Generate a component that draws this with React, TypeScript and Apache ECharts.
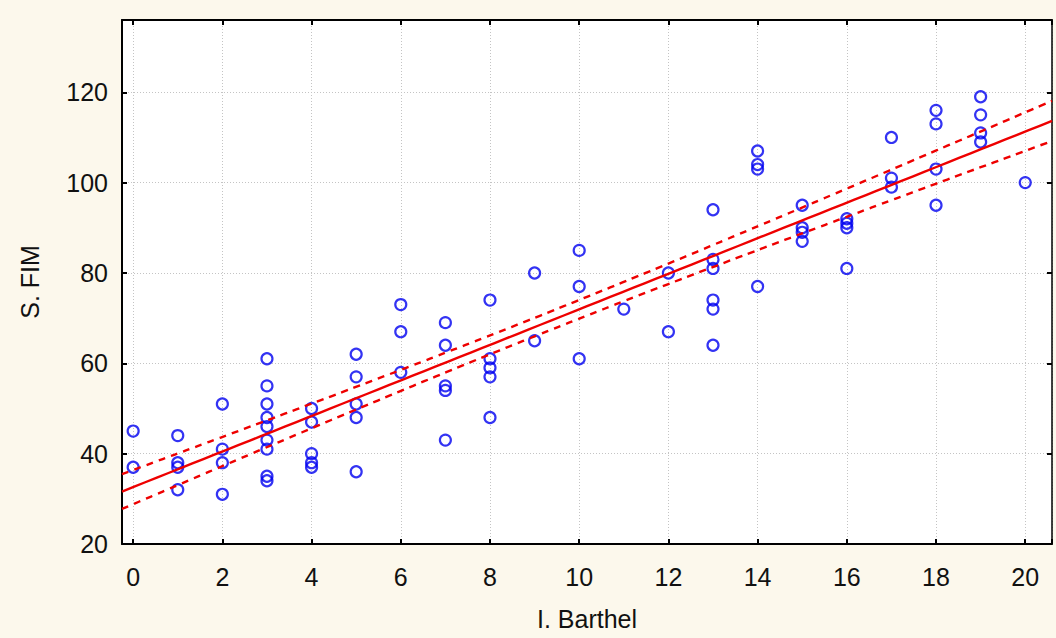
import React, { useEffect, useRef } from "react";
import * as echarts from "echarts";

// Barthel index (x) and FIM score (y) for each patient
const barthelScores = [
  0, 0,
  1, 1, 1, 1,
  2, 2, 2, 2,
  3, 3, 3, 3, 3, 3, 3, 3, 3,
  4, 4, 4, 4, 4,
  5, 5, 5, 5, 5,
  6, 6, 6,
  7, 7, 7, 7, 7,
  8, 8, 8, 8, 8,
  9, 9,
  10, 10, 10,
  11,
  12, 12,
  13, 13, 13, 13, 13, 13,
  14, 14, 14, 14,
  15, 15, 15, 15,
  16, 16, 16, 16,
  17, 17, 17,
  18, 18, 18, 18,
  19, 19, 19, 19,
  20,
];
const fimScores = [
  45, 37,
  44, 38, 37, 32,
  51, 41, 38, 31,
  61, 55, 51, 48, 46, 43, 41, 35, 34,
  50, 47, 40, 38, 37,
  62, 57, 51, 48, 36,
  73, 67, 58,
  69, 64, 55, 54, 43,
  74, 61, 59, 57, 48,
  80, 65,
  85, 77, 61,
  72,
  80, 67,
  94, 83, 81, 74, 72, 64,
  107, 104, 103, 77,
  95, 90, 89, 87,
  92, 91, 90, 81,
  110, 101, 99,
  116, 113, 103, 95,
  119, 115, 111, 109,
  100,
];

const xTicks = [0, 2, 4, 6, 8, 10, 12, 14, 16, 18, 20];
const yTicks = [20, 40, 60, 80, 100, 120];
const xRange = [-0.25, 20.6];
const yRange = [20, 136];
const tValue = 1.9908; // two-sided 95%, df = n - 2

// Least-squares fit with 95% confidence band for the mean
function fitRegression(xs: number[], ys: number[]) {
  const n = xs.length;
  const mx = xs.reduce((a, b) => a + b, 0) / n;
  const my = ys.reduce((a, b) => a + b, 0) / n;
  let sxx = 0, sxy = 0;
  for (let i = 0; i < n; i++) {
    sxx += (xs[i] - mx) ** 2;
    sxy += (xs[i] - mx) * (ys[i] - my);
  }
  const slope = sxy / sxx;
  const intercept = my - slope * mx;
  let sse = 0;
  for (let i = 0; i < n; i++) sse += (ys[i] - intercept - slope * xs[i]) ** 2;
  const s = Math.sqrt(sse / (n - 2));
  return { n, mx, sxx, slope, intercept, s };
}

const FONT = "'Liberation Sans', Arial, sans-serif";
const BLUE = "#0000f0";
const RED = "#ee0000";
const GRID_LINE = { show: true, lineStyle: { color: "#c4c4c4", type: [1, 2], width: 1 } };

export default function App() {
  const ref = useRef<HTMLDivElement>(null);

  useEffect(() => {
    if (!ref.current) return;
    const chart = echarts.init(ref.current, undefined, { renderer: "svg" });

    const fit = fitRegression(barthelScores, fimScores);
    const steps = 80;
    const fitLine: number[][] = [];
    const upper: number[][] = [];
    const lower: number[][] = [];
    for (let i = 0; i <= steps; i++) {
      const x = xRange[0] + ((xRange[1] - xRange[0]) * i) / steps;
      const y = fit.intercept + fit.slope * x;
      const h =
        tValue * fit.s * Math.sqrt(1 / fit.n + (x - fit.mx) ** 2 / fit.sxx);
      fitLine.push([x, y]);
      upper.push([x, y + h]);
      lower.push([x, y - h]);
    }

    const points = barthelScores.map((x, i) => [x, fimScores[i]]);

    const xLabelFmt = (v: number) => (xTicks.includes(v) ? String(v) : "");
    const yLabelFmt = (v: number) => (yTicks.includes(v) ? String(v) : "");

    const xBase = {
      type: "value",
      min: xRange[0],
      max: xRange[1],
      splitNumber: 10,
      axisLine: { show: true, onZero: false, lineStyle: { color: "#000", width: 2 } },
      axisTick: { show: true, inside: true, length: 5, lineStyle: { color: "#000", width: 2 } },
    };

    chart.setOption({
      animation: false,
      backgroundColor: "#fcf8ec",
      grid: {
        left: 122,
        top: 20,
        right: 4,
        bottom: 94,
        show: true,
        backgroundColor: "#ffffff",
        borderWidth: 0,
      },
      xAxis: [
        {
          ...xBase,
          name: "I. Barthel",
          nameLocation: "middle",
          nameGap: 62,
          nameTextStyle: { fontFamily: FONT, fontSize: 25, color: "#111" },
          axisLabel: {
            formatter: xLabelFmt,
            fontFamily: FONT,
            fontSize: 25,
            color: "#111",
            margin: 20,
          },
          splitLine: GRID_LINE,
        },
        {
          ...xBase,
          position: "top",
          axisLabel: { show: false },
          splitLine: { show: false },
        },
      ],
      yAxis: [
        {
          type: "value",
          min: yRange[0],
          max: yRange[1],
          interval: 20,
          name: "S. FIM",
          nameLocation: "middle",
          nameGap: 80,
          nameTextStyle: { fontFamily: FONT, fontSize: 25, color: "#111" },
          axisLine: { show: true, onZero: false, lineStyle: { color: "#000", width: 2 } },
          axisTick: { show: true, inside: true, length: 5, lineStyle: { color: "#000", width: 2 } },
          axisLabel: {
            formatter: yLabelFmt,
            fontFamily: FONT,
            fontSize: 25,
            color: "#111",
            margin: 14,
          },
          splitLine: GRID_LINE,
        },
        {
          type: "value",
          position: "right",
          min: yRange[0],
          max: yRange[1],
          interval: 20,
          axisLine: { show: true, onZero: false, lineStyle: { color: "#000", width: 1.5 } },
          axisTick: { show: true, inside: true, length: 5, lineStyle: { color: "#000", width: 2 } },
          axisLabel: { show: false },
          splitLine: { show: false },
        },
      ],
      series: [
        {
          type: "scatter",
          data: points,
          symbol: "circle",
          symbolSize: 11,
          itemStyle: { color: "rgba(0,0,0,0)", borderColor: BLUE, borderWidth: 2.2 },
          z: 3,
        },
        {
          type: "line",
          data: fitLine,
          showSymbol: false,
          symbol: "none",
          lineStyle: { color: RED, width: 2.4 },
          z: 4,
        },
        {
          type: "line",
          data: upper,
          showSymbol: false,
          symbol: "none",
          smooth: true,
          lineStyle: { color: RED, width: 2.4, type: [7, 6] },
          z: 4,
        },
        {
          type: "line",
          data: lower,
          showSymbol: false,
          symbol: "none",
          smooth: true,
          lineStyle: { color: RED, width: 2.4, type: [7, 6] },
          z: 4,
        },
      ],
    });

    return () => chart.dispose();
  }, []);

  return (
    <div
      ref={ref}
      style={{ position: "absolute", left: 0, top: 0, width: 1056, height: 638 }}
    />
  );
}
